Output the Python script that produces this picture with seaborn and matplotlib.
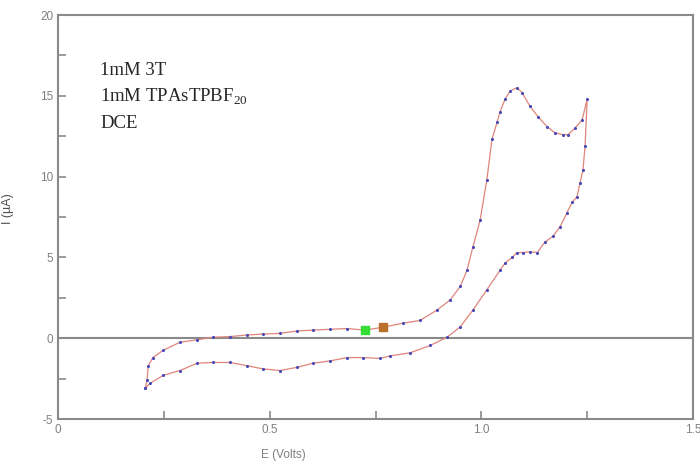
import matplotlib
matplotlib.use("Agg")
import matplotlib.pyplot as plt
from matplotlib.ticker import MultipleLocator
import seaborn as sns
import pandas as pd

sns.set_style("white")
plt.rcParams['font.family'] = ['Liberation Sans', 'DejaVu Sans']
plt.rcParams['axes.unicode_minus'] = False
plt.rcParams['mathtext.fontset'] = 'custom'
plt.rcParams['mathtext.rm'] = 'Liberation Serif'

# forward scan (anodic), then reverse scan
e_fwd = [0.206, 0.210, 0.213, 0.224, 0.248, 0.288, 0.328, 0.366, 0.406, 0.446,
         0.484, 0.524, 0.565, 0.602, 0.643, 0.683, 0.725, 0.768, 0.815, 0.855,
         0.895, 0.926, 0.950, 0.966, 0.980, 0.997, 1.013, 1.025, 1.037, 1.044,
         1.056, 1.068, 1.084, 1.096, 1.115, 1.134, 1.155, 1.174, 1.193, 1.205,
         1.221, 1.238, 1.250]
i_fwd = [-3.1, -2.6, -1.7, -1.2, -0.75, -0.25, -0.1, 0.06, 0.1, 0.2,
         0.25, 0.3, 0.45, 0.5, 0.55, 0.6, 0.5, 0.68, 0.93, 1.1,
         1.74, 2.36, 3.2, 4.2, 5.65, 7.3, 9.8, 12.3, 13.35, 14.0,
         14.8, 15.3, 15.5, 15.2, 14.35, 13.7, 13.1, 12.7, 12.6, 12.6,
         13.0, 13.5, 14.8]
e_rev = [1.245, 1.240, 1.233, 1.226, 1.214, 1.202, 1.186, 1.169, 1.150, 1.132,
         1.115, 1.098, 1.084, 1.073, 1.056, 1.044, 1.013, 0.980, 0.950, 0.919,
         0.879, 0.832, 0.784, 0.761, 0.720, 0.683, 0.643, 0.602, 0.565, 0.524,
         0.484, 0.446, 0.406, 0.366, 0.328, 0.288, 0.248, 0.217, 0.206]
i_rev = [11.9, 10.4, 9.6, 8.75, 8.4, 7.75, 6.9, 6.3, 5.95, 5.3,
         5.35, 5.3, 5.3, 5.0, 4.65, 4.2, 3.0, 1.74, 0.7, 0.06,
         -0.45, -0.9, -1.1, -1.25, -1.2, -1.2, -1.4, -1.55, -1.8, -2.0,
         -1.9, -1.7, -1.5, -1.5, -1.55, -2.0, -2.3, -2.8, -3.1]

green_pt = (0.725, 0.5)
orange_pt = (0.768, 0.68)

df = pd.DataFrame({'E': e_fwd + e_rev, 'I': i_fwd + i_rev})

fig = plt.figure(figsize=(7, 4.69), dpi=100)
ax = fig.add_axes([0.083, 0.1066, 0.907, 0.8614])

ax.axhline(0, color='#8a8a8a', lw=1.5, zorder=1)
sns.lineplot(data=df, x='E', y='I', sort=False, estimator=None, color='#e0857a',
             lw=0.9, ax=ax, zorder=2)
sns.scatterplot(data=df, x='E', y='I', color='#4848b8', s=5, linewidth=0, ax=ax, zorder=3)
ax.scatter([green_pt[0]], [green_pt[1]], s=28, marker='s', color='#33dd33', zorder=4)
ax.scatter([orange_pt[0]], [orange_pt[1]], s=28, marker='s', color='#b8702a', zorder=4)

ax.set_xlim(0, 1.5)
ax.set_ylim(-5, 20)
ax.xaxis.set_major_locator(MultipleLocator(0.5))
ax.xaxis.set_minor_locator(MultipleLocator(0.25))
ax.yaxis.set_major_locator(MultipleLocator(5))
ax.yaxis.set_minor_locator(MultipleLocator(2.5))
ax.set_xticks([0, 0.5, 1.0, 1.5])
ax.set_xticklabels(['0', '0.5', '1.0', '1.5'])
ax.tick_params(which='both', direction='in', length=6, width=1.2, color='#8a8a8a',
               labelcolor='#808080', labelsize=8.5, bottom=True, left=True, top=False, right=False)
for sp in ax.spines.values():
    sp.set_color('#8a8a8a')
    sp.set_linewidth(1.5)

ax.set_xlabel('E (Volts)', color='#808080', fontsize=8.5)
ax.set_ylabel('I (µA)', color='#505050', fontsize=9)
ax.xaxis.set_label_coords(0.355, -0.075)
ax.yaxis.set_label_coords(-0.07, 0.52)

serif = ['Liberation Serif', 'DejaVu Serif']
ax.text(0.0665, 0.852, '1mM 3T', transform=ax.transAxes, fontsize=13.5, family=serif)
ax.text(0.0665, 0.785, '1mM TPAsTPBF$_{20}$', transform=ax.transAxes, fontsize=13.5, family=serif)
ax.text(0.0665, 0.72, 'DCE', transform=ax.transAxes, fontsize=13.5, family=serif)

fig.savefig('out.png', dpi=100)
